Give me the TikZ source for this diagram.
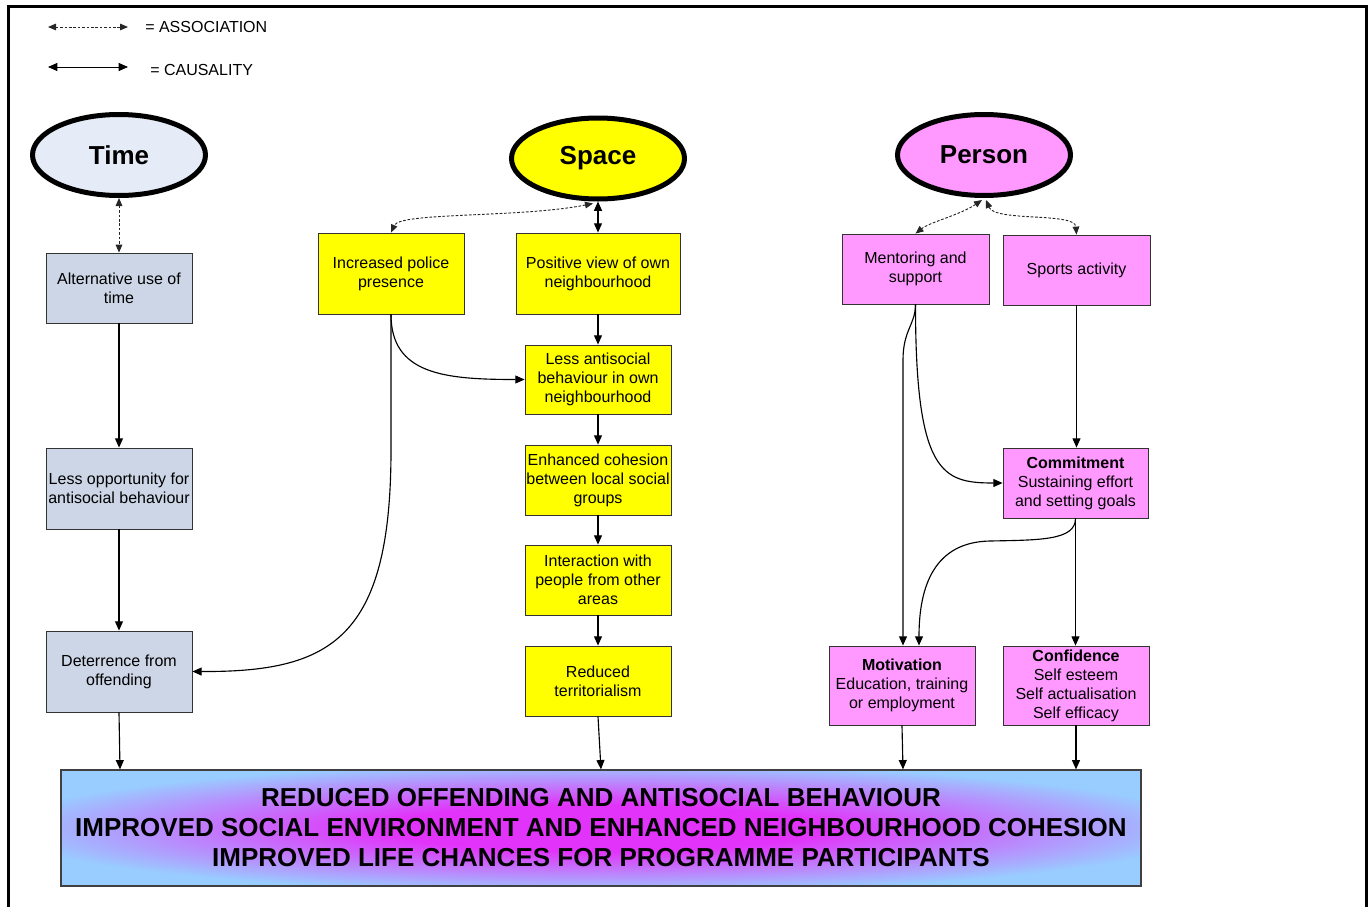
\documentclass[tikz,border=0pt]{standalone}
\usepackage{fontspec}
\setmainfont{Liberation Sans}
\usetikzlibrary{arrows.meta,shapes.geometric,calc}
\definecolor{timeell}{RGB}{230,236,247}
\definecolor{timebox}{RGB}{204,214,230}
\definecolor{pinkc}{RGB}{255,153,255}
\definecolor{yel}{RGB}{255,255,0}
\definecolor{glowblue}{RGB}{153,204,255}
\definecolor{glowmag}{RGB}{226,51,250}
\definecolor{glowmid}{RGB}{190,128,252}
\pgfdeclareradialshading{outglow}{\pgfpoint{0bp}{0bp}}{color(0bp)=(glowmag); color(10bp)=(glowmag); color(19bp)=(glowmid); color(28bp)=(glowblue); color(50bp)=(glowblue)}
\begin{document}
\begin{tikzpicture}[x=0.75pt,y=-0.75pt,
  >={Triangle[length=7pt,width=6pt]},
  cause/.style={draw=black, line width=0.85pt, ->},
  assoc/.style={draw=black!85, line width=0.7pt, dash pattern=on 2pt off 1.3pt, <->, >={Triangle[length=6pt,width=5pt]}},
  bx/.style 2 args={draw=black!80, line width=0.6pt, minimum width=#1*0.75pt, minimum height=#2*0.75pt, inner sep=1pt, align=center, font=\fontsize{12}{14.25}\selectfont},
  ell/.style={ellipse, draw=black, line width=3.75pt, minimum width=173*0.75pt, minimum height=81*0.75pt, font=\fontsize{19.5}{22}\selectfont\bfseries},
  legtext/.style={anchor=west, font=\fontsize{12}{14}\selectfont, inner sep=0pt}
]
\useasboundingbox (0,0) rectangle (1372,907);
% frame
\draw[line width=2.4pt] (8.5,915) -- (8.5,6.5) -- (1366.5,6.5) -- (1366.5,915);

% legend
\coordinate (la) at (48,27);
\coordinate (lb) at (128,27);
\coordinate (lc) at (48,67);
\coordinate (ld) at (128,67);
\draw[assoc] (la) -- (lb);
\draw[cause,<->,line width=0.75pt] (lc) -- (ld);
\node[legtext] (lt1) at (145,27) {= ASSOCIATION};
\node[legtext] (lt2) at (150,70) {= CAUSALITY};

% ellipses
\node[ell, fill=timeell] (time) at (119,155) {Time};
\node[ell, fill=yel] (space) at (598,158.5) {Space};
\node[ell, fill=pinkc] (person) at (984,155) {Person};

% time column
\node[bx={146}{70}, fill=timebox] (alt) at (119,288) {Alternative use of\\time};
\node[bx={146}{81}, fill=timebox] (lessopp) at (119,488.5) {Less opportunity for\\antisocial behaviour};
\node[bx={146}{81}, fill=timebox] (deter) at (119,671.5) {Deterrence from\\offending};

% space column
\node[bx={146}{81}, fill=yel] (police) at (391,273.5) {Increased police\\presence};
\node[bx={164}{81}, fill=yel] (positive) at (598,273.5) {Positive view of own\\neighbourhood};
\node[bx={146}{69}, fill=yel] (lessanti) at (598,379.5) {Less antisocial\\behaviour in own\\neighbourhood};
\node[bx={146}{70}, fill=yel] (cohesion) at (598,480) {Enhanced cohesion\\between local social\\groups};
\node[bx={146}{70}, fill=yel] (interact) at (598,580) {Interaction with\\people from other\\areas};
\node[bx={146}{70}, fill=yel] (territ) at (598,681) {Reduced\\territorialism};

% person column
\node[bx={147}{70}, fill=pinkc] (mentor) at (915.5,269) {Mentoring and\\support};
\node[bx={147}{70}, fill=pinkc] (sports) at (1076.5,270) {Sports activity};
\node[bx={145}{70}, fill=pinkc] (commit) at (1075.5,483) {\textbf{Commitment}\\Sustaining effort\\and setting goals};
\node[bx={146}{79}, fill=pinkc] (motiv) at (902,685.5) {\textbf{Motivation}\\Education, training\\or employment};
\node[bx={146}{79}, fill=pinkc] (confid) at (1076,685.5) {\textbf{Confidence}\\Self esteem\\Self actualisation\\Self efficacy};

% outcome
\node[draw=black!75, line width=0.9pt, shade, shading=outglow, minimum width=1080*0.75pt, minimum height=116*0.75pt, inner sep=0pt, align=center, font=\fontsize{19.5}{22.5}\selectfont\bfseries] (out) at (601,828)
  {REDUCED OFFENDING AND ANTISOCIAL BEHAVIOUR\\IMPROVED SOCIAL ENVIRONMENT AND ENHANCED NEIGHBOURHOOD COHESION\\IMPROVED LIFE CHANCES FOR PROGRAMME PARTICIPANTS};

% time connectors
\draw[assoc] (time.south) -- (alt.north);
\draw[cause] (alt.south) -- (lessopp.north);
\draw[cause] (lessopp.south) -- (deter.north);
\draw[cause] (deter.south) -- ($(deter.south |- out.north)+(1,0)$);

% space connectors
\draw[assoc] ($(space.south)+(-5,2)$) .. controls (520,218) and (400,212) .. (police.north);
\draw[cause,<->] (space.south) -- (positive.north);
\draw[cause] (positive.south) -- (lessanti.north);
\draw[cause] (lessanti.south) -- (cohesion.north);
\draw[cause] (cohesion.south) -- (interact.north);
\draw[cause] (interact.south) -- (territ.north);
\draw[cause] (territ.south) -- ($(territ.south |- out.north)+(3,0)$);
\draw[cause] (police.south) .. controls +(0,60) and +(-80,0) .. (lessanti.west);
\draw[cause] (police.south) -- (391,450) .. controls (391,640) and (330,672) .. (deter.east);

% person connectors
\draw[assoc] ($(person.south)+(-2,2)$) .. controls (960,215) and (930,222) .. (mentor.north);
\draw[assoc] ($(person.south)+(2,2)$) .. controls (995,222) and (1075,212) .. (sports.north);
\draw[cause] (mentor.south) .. controls +(0,20) and +(0,-30) .. (903,360) -- ($(motiv.north)+(1,0)$);
\draw[cause] (mentor.south) .. controls +(0,170) and +(-60,0) .. (commit.west);
\draw[cause] (sports.south) -- (sports.south |- commit.north);
\draw[cause] (commit.south) .. controls +(0,22) and (1040,540) .. (990,541) .. controls (935,542) and (919,585) .. ($(motiv.north)+(17,0)$);
\draw[cause] (commit.south) -- (commit.south |- confid.north);
\draw[cause] (motiv.south) -- ($(motiv.south |- out.north)+(1,0)$);
\draw[cause] (confid.south) -- (confid.south |- out.north);
\end{tikzpicture}
\end{document}
